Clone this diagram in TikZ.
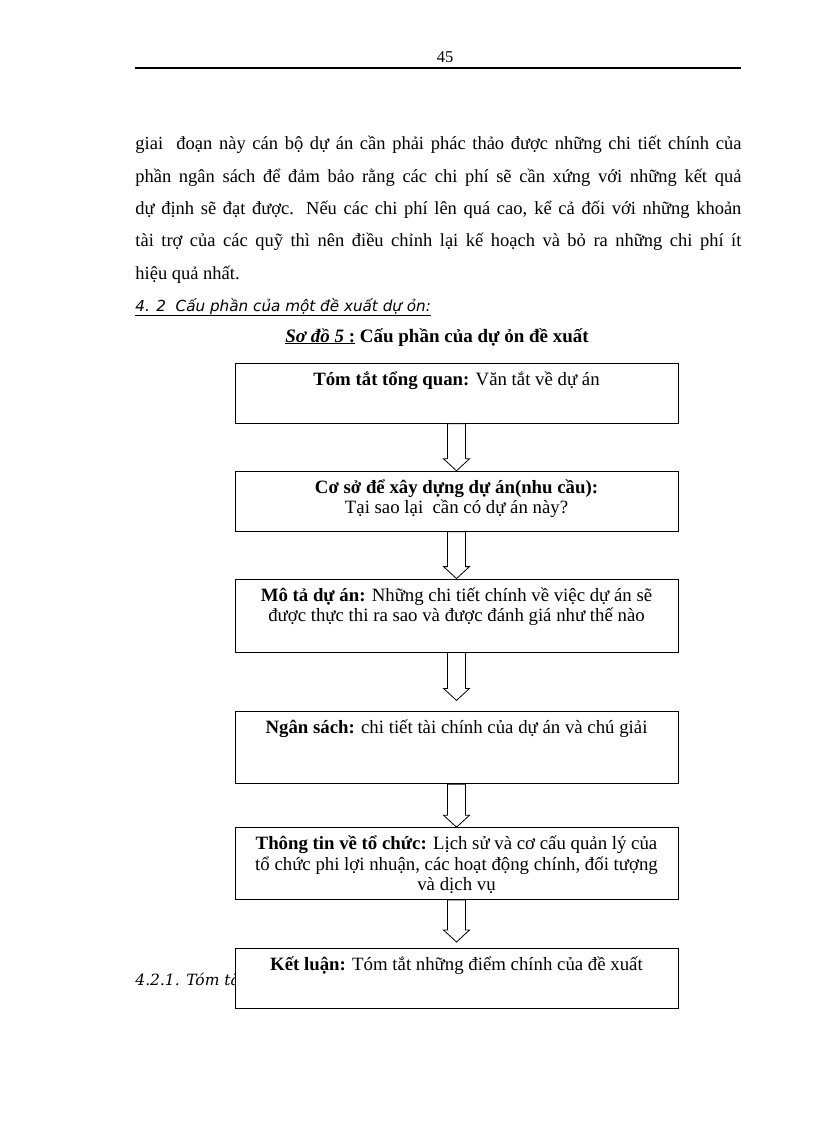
\documentclass[tikz,border=0pt]{standalone}
\usepackage{fontspec}
\setmainfont{Liberation Serif}
\newfontfamily\headfont{DejaVu Sans}
\newfontfamily\notefont{DejaVu Serif}
\usetikzlibrary{calc,positioning}
\newcommand{\stagetext}[2]{\parbox[c][#1pt][t]{430pt}{\centering\rule{0pt}{22pt}#2}}
\tikzset{
	every path/.style = {line width=0.8pt},
	stage/.style = {draw, fill=white, inner sep=0pt, minimum width=443pt,
		font=\fontsize{18.8}{20.5}\selectfont},
	hollow/.style = {draw, fill=white, to path={
		let \p1=(\tikztostart), \p2=(\tikztotarget) in
		(\x1-9pt,\y1) -- (\x1-9pt,\y2+12pt) -- (\x1-13pt,\y2+12pt) -- (\x1,\y2)
		-- (\x1+13pt,\y2+12pt) -- (\x1+9pt,\y2+12pt) -- (\x1+9pt,\y1) -- cycle}}
}

\begin{document}
\begin{tikzpicture}[x=1pt,y=-1pt]
	\useasboundingbox (0,0) rectangle (816,1123);
	% header
	\node (page) [anchor=base, font=\fontsize{16.5}{18}\selectfont] at (445,63) {45};
	\draw[line width=2pt] (135,68) -- (741,68);
	% text above the chart
	\node (body) [anchor=base west, inner sep=0pt, text width=606pt, align=justify,
		font=\fontsize{18.5}{32.3}\selectfont] at (135,150)
		{giai\ \ đoạn này cán bộ dự án cần phải phác thảo được những chi tiết chính của\linebreak
		 phần ngân sách để đảm bảo rằng các chi phí sẽ cần xứng với những kết quả\linebreak
		 dự định sẽ đạt được. Nếu các chi phí lên quá cao, kể cả đối với những khoản\linebreak
		 tài trợ của các quỹ thì nên điều chỉnh lại kế hoạch và bỏ ra những chi phí ít\linebreak
		 hiệu quả nhất.};
	\node (sec) [anchor=base west, inner sep=0pt, font=\headfont\itshape\fontsize{15.2}{17}\selectfont]
		at (135,311) {\underline{4. 2\ \ Cấu phần của một đề xuất dự ỏn:}};
	\node (title) [anchor=base, inner sep=0pt, font=\fontsize{19}{22}\selectfont]
		at (437,342) {\underline{\textbf{\textit{Sơ đồ 5} :}}\textbf{ Cấu phần của dự ỏn đề xuất}};
	\node (sub) [anchor=base west, inner sep=0pt, font=\notefont\itshape\fontsize{15.5}{17}\selectfont]
		at (135,985) {4.2.1. Tóm tắt};
	% chart
	\node (b1) [stage, anchor=north] at (456.5,363)
		{\stagetext{60}{\textbf{Tóm tắt tổng quan:} Văn tắt về dự án}};
	\node (b2) [stage, below=47pt of b1]
		{\stagetext{60}{\textbf{Cơ sở để xây dựng dự án(nhu cầu):}\\ Tại sao lại\ \ cần có dự án này?}};
	\node (b3) [stage, below=47pt of b2]
		{\stagetext{73}{\textbf{Mô tả dự án:} Những chi tiết chính về việc dự án sẽ\\ được thực thi ra sao và được đánh giá như thế nào}};
	\node (b4) [stage, below=59pt of b3]
		{\stagetext{72}{\textbf{Ngân sách:} chi tiết tài chính của dự án và chú giải}};
	\node (b5) [stage, below=43pt of b4]
		{\stagetext{72}{\textbf{Thông tin về tổ chức:} Lịch sử và cơ cấu quản lý của\\ tổ chức phi lợi nhuận, các hoạt động chính, đối tượng\\ và dịch vụ}};
	\node (b6) [stage, below=48pt of b5]
		{\stagetext{60}{\textbf{Kết luận:} Tóm tắt những điểm chính của đề xuất}};
	\draw[hollow] (b1.south) to (b2.north);
	\draw[hollow] (b2.south) to (b3.north);
	\draw[hollow] (b3.south) to ([yshift=11pt]b4.north);
	\draw[hollow] (b4.south) to (b5.north);
	\draw[hollow] (b5.south) to ([yshift=6pt]b6.north);
\end{tikzpicture}
\end{document}
